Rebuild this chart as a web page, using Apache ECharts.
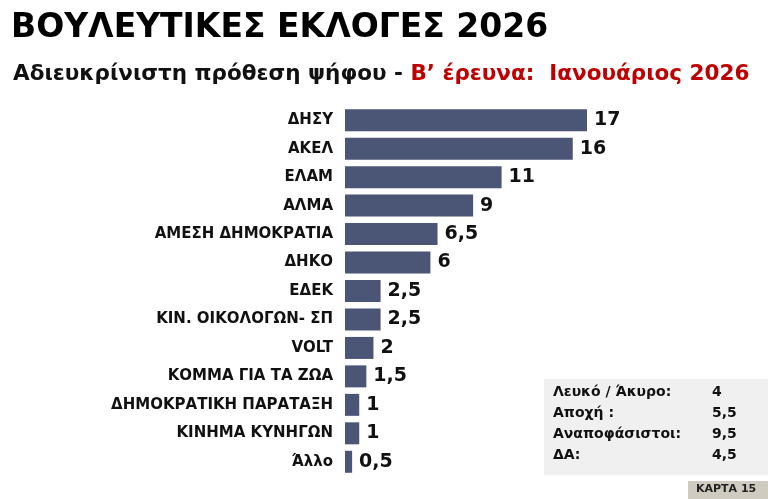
<!DOCTYPE html>
<html><head><meta charset="utf-8">
<script src="https://cdn.jsdelivr.net/npm/echarts@6/dist/echarts.min.js"></script>
<style>html,body{margin:0;padding:0;background:#fff}#c{width:768px;height:499px}</style>
</head><body><div id="c"></div>
<script>
const parties = ["ΔΗΣΥ", "ΑΚΕΛ", "ΕΛΑΜ", "ΑΛΜΑ", "ΑΜΕΣΗ ΔΗΜΟΚΡΑΤΙΑ", "ΔΗΚΟ", "ΕΔΕΚ",
    "ΚΙΝ. ΟΙΚΟΛΟΓΩΝ- ΣΠ", "VOLT", "ΚΟΜΜΑ ΓΙΑ ΤΑ ΖΩΑ", "ΔΗΜΟΚΡΑΤΙΚΗ ΠΑΡΑΤΑΞΗ", "ΚΙΝΗΜΑ ΚΥΝΗΓΩΝ", "Άλλο"];
const shares = [17, 16, 11, 9, 6.5, 6, 2.5, 2.5, 2, 1.5, 1, 1, 0.5];
const otherLabels = ["Λευκό / Άκυρο:", "Αποχή :", "Αναποφάσιστοι:", "ΔΑ:"];
const otherValues = ["4", "5,5", "9,5", "4,5"];

const chart = echarts.init(document.getElementById("c"));
const font = "'DejaVu Sans', 'Open Sans', sans-serif";
const graphics = [
    { type: "rect", shape: { x: 544, y: 379, width: 224, height: 96 }, style: { fill: "#f0f0f0" } },
    { type: "rect", shape: { x: 688, y: 481, width: 80, height: 18 }, style: { fill: "#cfcbc0" } },
    { type: "text", x: 696, y: 484, style: { text: "ΚΑΡΤΑ 15", font: "bold 11px " + font, fill: "#222" } }
];
otherLabels.forEach((l, i) => {
    graphics.push({ type: "text", x: 553, y: 385 + i * 21, style: { text: l, font: "bold 14px " + font, fill: "#111" } });
    graphics.push({ type: "text", x: 712, y: 385 + i * 21, style: { text: otherValues[i], font: "bold 14px " + font, fill: "#111" } });
});

chart.setOption({
    title: [{
        text: "ΒΟΥΛΕΥΤΙΚΕΣ ΕΚΛΟΓΕΣ 2026",
        left: 6, top: 7,
        textStyle: { fontFamily: font, fontSize: 33, fontWeight: "bold", color: "#000" }
    }, {
        text: "{a|Αδιευκρίνιστη πρόθεση ψήφου - }{b|Β’ έρευνα:  Ιανουάριος 2026}",
        left: 8, top: 58,
        textStyle: {
            rich: {
                a: { fontFamily: font, fontSize: 21.5, fontWeight: "bold", color: "#111" },
                b: { fontFamily: font, fontSize: 21.5, fontWeight: "bold", color: "#c00000" }
            }
        }
    }],
    grid: { left: 345, top: 106, right: 181, height: 370 },
    xAxis: { type: "value", min: 0, max: 17, show: false },
    yAxis: {
        type: "category", data: parties, inverse: true,
        axisLine: { show: false }, axisTick: { show: false },
        axisLabel: { margin: 12, fontFamily: font, fontSize: 15, fontWeight: "bold", color: "#111" }
    },
    series: [{
        type: "bar", data: shares, barWidth: 22,
        itemStyle: { color: "#4b5575" },
        label: {
            show: true, position: "right", distance: 7,
            formatter: p => String(p.value).replace(".", ","),
            fontFamily: font, fontSize: 19, fontWeight: "bold", color: "#111"
        }
    }],
    graphic: graphics,
    animation: false
});
</script></body></html>
